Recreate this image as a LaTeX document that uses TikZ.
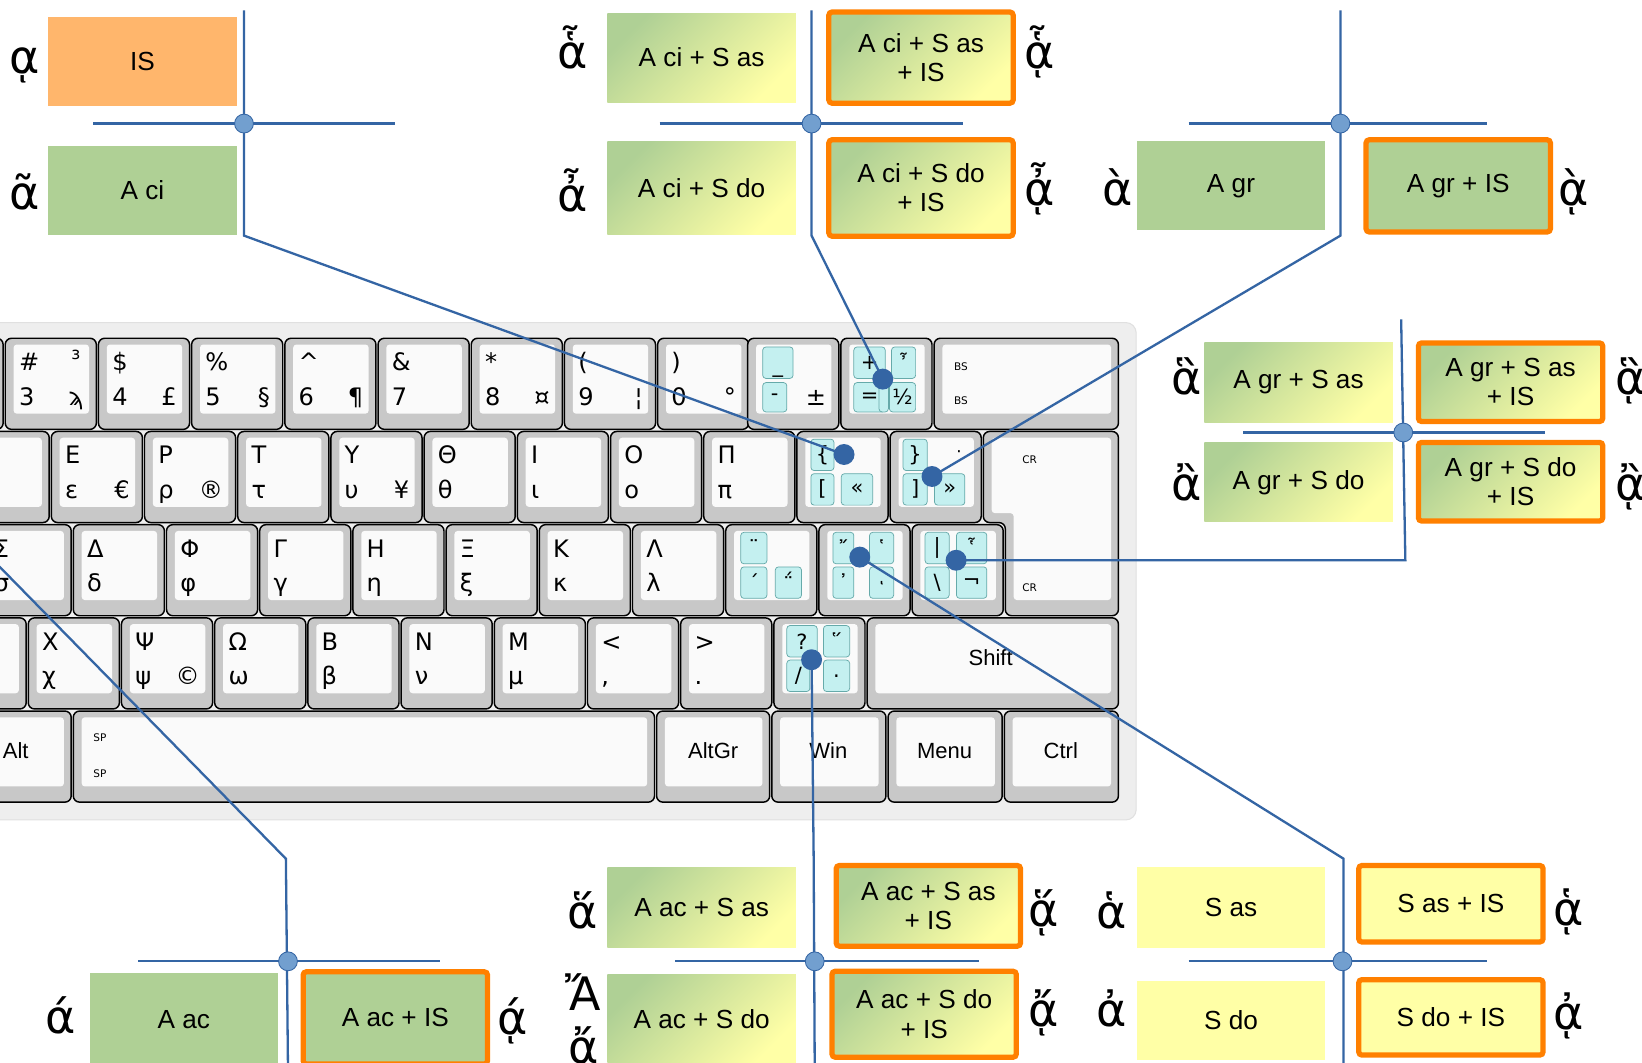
\documentclass[tikz,border=0pt]{standalone}
\usepackage{fontspec}
\setmainfont{Liberation Sans}
\newfontfamily\grkfamily{DejaVu Sans}
\usetikzlibrary{positioning}

\definecolor{linkblue}{HTML}{3465A4}
\definecolor{hubblue}{HTML}{729FCF}
\definecolor{boxgreen}{HTML}{AFD095}
\definecolor{boxyellow}{HTML}{FFFFA6}
\definecolor{boxorange}{HTML}{FF8000}
\definecolor{isorange}{HTML}{FFB66C}
\definecolor{capgray}{HTML}{C8C8C8}
\definecolor{panelgray}{HTML}{EEEEEE}
\definecolor{deadfill}{HTML}{C4F0F0}
\definecolor{deadline}{HTML}{66AAAA}

\newcommand{\boxfont}{\fontsize{25}{28}\selectfont}
\newcommand{\letterfont}{\grkfamily\fontsize{44}{50}\selectfont}
\newcommand{\keyfont}{\grkfamily\fontsize{23}{26}\selectfont}
\newcommand{\smallkeyfont}{\grkfamily\fontsize{16}{18}\selectfont}
\newcommand{\cellfont}{\grkfamily\fontsize{20}{22}\selectfont}
\newcommand{\tagfont}{\grkfamily\fontsize{10}{12}\selectfont}
\newcommand{\namefont}{\fontsize{21}{24}\selectfont}

\tikzset{
  kbpanel/.style={fill=panelgray, draw=black!12, line width=1pt, rounded corners=10pt},
  keycap/.style={draw=black, line width=1.4pt, fill=capgray, rounded corners=6pt},
  keyface/.style={fill=white!98!black, rounded corners=3pt},
  keylegend/.style={font=\keyfont, anchor=base west, inner sep=0pt},
  keytag/.style={font=\tagfont, anchor=base west, inner sep=0pt},
  keyname/.style={font=\namefont, inner sep=0pt},
  deadcell/.style={draw=deadline, fill=deadfill, line width=0.7pt, rounded corners=3pt,
                   anchor=north west, minimum width=26pt, minimum height=30pt, inner sep=0pt, font=\cellfont},
  wire/.style={draw=linkblue, line width=2.2pt},
  hubdot/.style={circle, fill=hubblue, draw=linkblue, line width=0.8pt, minimum size=18pt, inner sep=0pt},
  keydot/.style={circle, fill=linkblue, minimum size=20pt, inner sep=0pt},
  combo/.style={minimum width=180pt, minimum height=85pt, inner sep=0pt, font=\boxfont, align=center},
  greenbox/.style={combo, fill=boxgreen},
  yellowbox/.style={combo, fill=boxyellow},
  isbox/.style={combo, fill=isorange},
  gradbox/.style={combo, top color=boxgreen, bottom color=boxyellow, shading angle=45},
  iotabox/.style={draw=boxorange, line width=5pt, rounded corners=3pt, minimum width=176pt},
  accglyph/.style={font=\letterfont, inner sep=0pt, anchor=base},
}

% one key: x, y, width
\newcommand{\kcap}[3]{%
  \draw[keycap] (#1,#2) rectangle ++(#3,87);
  \fill[keyface] ({#1+8},{#2+6}) rectangle ({#1+#3-7},{#2+72});
}
% legends of one key: name, x, y, upper, lower, right
\newcommand{\kleg}[6]{%
  \node[keylegend] (#1-tl) at ({#2+13},{#3+31}) {#4};
  \node[keylegend] (#1-bl) at ({#2+13},{#3+64}) {#5};
  \node[keylegend, anchor=base east] (#1-br) at ({#2+75},{#3+64}) {#6};
}

\begin{document}
\begin{tikzpicture}[x=1pt, y=-1pt]
\useasboundingbox (0,0) rectangle (1568,1015);
\fill[white] (0,0) rectangle (1568,1015);

% keyboard
\path[kbpanel] (-40,308) rectangle (1085,783);

% number row
\kcap{-84}{323}{87}
\foreach \tl/\bl/\br/\tr [count=\i from 0] in {{\#}/3/{ϡ}/{з}, {\$}/4/{£}/{}, {\%}/5/{§}/{},
    {\textasciicircum}/6/{¶}/{}, {\&}/7/{}/{}, {*}/8/{¤}/{}, {(}/9/{¦}/{}, {)}/0/{°}/{}}{
  \pgfmathtruncatemacro\kx{5+89*\i}
  \kcap{\kx}{323}{87}
  \kleg{num\i}{\kx}{323}{\tl}{\bl}{\br}
  \node[keytag, font=\smallkeyfont] (num\i-tr) at ({\kx+63},343) {\tr};
}
\kcap{714}{323}{87}
\node[deadcell, minimum width=29pt, text height=20pt, text depth=2pt] (minus-tl) at (728,331) {\_};
\node[deadcell, minimum width=23pt, minimum height=28pt] (minus-bl) at (728,365) {-};
\node[keylegend, anchor=base east] (minus-br) at (789,387) {±};
\kcap{803}{323}{87}
\node[deadcell, minimum width=30pt] (plus-tl) at (815,331) {+};
\node[deadcell, minimum width=23pt] (plus-tr) at (851,331) {῏};
\node[deadcell, minimum width=30pt, minimum height=28pt] (plus-bl) at (815,365) {=};
\node[deadcell, minimum width=25pt, minimum height=28pt] (plus-br) at (849,365) {½};
\node[deadcell, minimum width=9pt, minimum height=33pt] (plus-bar) at (839,360) {};
\kcap{892}{323}{176}
\node[keytag] (bs-up) at (911,354) {BS};
\node[keytag] (bs-lo) at (911,386) {BS};

% upper letter row
\kcap{-40}{412}{87}
\foreach \tl/\bl/\br [count=\i from 0] in {Ε/ε/€, Ρ/ρ/®, Τ/τ/{}, Υ/υ/¥, Θ/θ/{}, Ι/ι/{}, Ο/ο/{}, Π/π/{}}{
  \pgfmathtruncatemacro\kx{49+89*\i}
  \kcap{\kx}{412}{87}
  \kleg{top\i}{\kx}{412}{\tl}{\bl}{\br}
}
\kcap{761}{412}{87}
\node[deadcell, minimum width=22pt] (open-tl) at (774,419) {\{};
\node[deadcell, minimum width=22pt] (open-bl) at (774,452) {[};
\node[deadcell, minimum width=30pt] (open-br) at (803,452) {«};
\kcap{850}{412}{87}
\node[deadcell, minimum width=23pt] (close-tl) at (862,419) {\}};
\node[deadcell, minimum width=23pt] (close-bl) at (862,452) {]};
\node[deadcell, minimum width=29pt] (close-br) at (892,452) {»};
\node[keytag, font=\smallkeyfont] (close-tr) at (913,437) {·};
\draw[keycap] (939,412) -- (1068,412) -- (1068,588) -- (960,588) -- (960,499) -- (939,499) -- cycle;
\fill[keyface] (947,418) -- (1061,418) -- (1061,573) -- (968,573) -- (968,490) -- (947,490) -- cycle;
\node[keytag] (cr-up) at (976,443) {CR};
\node[keytag] (cr-lo) at (976,565) {CR};

% home row
\kcap{-19}{501}{87}
\kleg{sigma}{-19}{501}{Σ}{σ}{}
\foreach \tl/\bl [count=\i from 0] in {Δ/δ, Φ/φ, Γ/γ, Η/η, Ξ/ξ, Κ/κ, Λ/λ}{
  \pgfmathtruncatemacro\kx{70+89*\i}
  \kcap{\kx}{501}{87}
  \kleg{home\i}{\kx}{501}{\tl}{\bl}{}
}
\kcap{693}{501}{87}
\node[deadcell, minimum width=25pt] (diaer-tl) at (707,508) {¨};
\node[deadcell, minimum width=25pt] (diaer-bl) at (707,541) {΄};
\node[deadcell, minimum width=25pt] (diaer-br) at (740,541) {΅};
\kcap{782}{501}{87}
\node[deadcell, minimum width=20pt] (quote-tl) at (795,508) {῎};
\node[deadcell, minimum width=23pt] (quote-tr) at (830,508) {῾};
\node[deadcell, minimum width=20pt] (quote-bl) at (795,541) {᾿};
\node[deadcell, minimum width=23pt] (quote-br) at (830,541) {ͺ};
\kcap{871}{501}{87}
\node[deadcell, minimum width=23pt] (bar-tl) at (883,508) {|};
\node[deadcell, minimum width=29pt] (bar-tr) at (913,508) {῟};
\node[deadcell, minimum width=23pt] (bar-bl) at (883,541) {\textbackslash};
\node[deadcell, minimum width=29pt] (bar-br) at (913,541) {¬};

% lower letter row
\kcap{-62}{590}{87}
\foreach \tl/\bl/\br [count=\i from 0] in {Χ/χ/{}, Ψ/ψ/{©}, Ω/ω/{}, Β/β/{}, Ν/ν/{}, Μ/μ/{}, {<}/{,}/{}, {>}/{.}/{}}{
  \pgfmathtruncatemacro\kx{27+89*\i}
  \kcap{\kx}{590}{87}
  \kleg{low\i}{\kx}{590}{\tl}{\bl}{\br}
}
\kcap{739}{590}{87}
\node[deadcell, minimum width=29pt] (query-tl) at (751,597) {?};
\node[deadcell, minimum width=25pt] (query-tr) at (786,597) {῞};
\node[deadcell, minimum width=22pt] (query-bl) at (751,630) {/};
\node[deadcell, minimum width=25pt] (query-br) at (786,630) {.};
\kcap{828}{590}{240}
\node[keyname] (shift) at (946,628) {Shift};

% bottom row
\kcap{-19}{679}{87}
\node[keyname] (alt) at (15,717) {Alt};
\kcap{70}{679}{555}
\node[keytag] (sp-up) at (89,708) {SP};
\node[keytag] (sp-lo) at (89,742) {SP};
\kcap{627}{679}{108}
\node[keyname] (altgr) at (681,717) {AltGr};
\kcap{737}{679}{109}
\node[keyname] (win) at (791,717) {Win};
\kcap{848}{679}{109}
\node[keyname] (menu) at (902,717) {Menu};
\kcap{959}{679}{109}
\node[keyname] (ctrl) at (1013,717) {Ctrl};

% dots on the keys
\node[keydot] (pinbrace) at (806,434) {};
\node[keydot] (pinplus) at (843,362) {};
\node[keydot] (pinclose) at (890,455) {};
\node[keydot] (pinquote) at (821,532) {};
\node[keydot] (pinbar) at (913,535) {};
\node[keydot] (pinquery) at (775,630) {};
\coordinate (pinsigma) at (-30,511);

% connectors
\coordinate (tltop) at (233,10);     \coordinate (tlbend) at (233,225);
\coordinate (tlwest) at (89,118);    \coordinate (tleast) at (377,118);
\coordinate (tmtop) at (775,10);     \coordinate (tmbend) at (775,225);
\coordinate (tmwest) at (630,118);   \coordinate (tmeast) at (920,118);
\coordinate (trtop) at (1280,10);    \coordinate (trbend) at (1280,225);
\coordinate (trwest) at (1135,118);  \coordinate (treast) at (1420,118);
\coordinate (rtop) at (1338,305);    \coordinate (rbend) at (1342,535);
\coordinate (rwest) at (1187,413);   \coordinate (reast) at (1475,413);
\coordinate (blbend) at (273,820);   \coordinate (blbottom) at (275,1020);
\coordinate (blwest) at (132,918);   \coordinate (bleast) at (420,918);
\coordinate (bmbend) at (777,820);   \coordinate (bmbottom) at (778,1020);
\coordinate (bmwest) at (645,918);   \coordinate (bmeast) at (935,918);
\coordinate (brbend) at (1283,820);  \coordinate (brbottom) at (1283,1020);
\coordinate (brwest) at (1135,918);  \coordinate (breast) at (1420,918);

\draw[wire] (tltop) -- (tlbend) -- (pinbrace.center);
\draw[wire] (tlwest) -- (tleast);
\draw[wire] (tmtop) -- (tmbend) -- (pinplus.center);
\draw[wire] (tmwest) -- (tmeast);
\draw[wire] (trtop) -- (trbend) -- (pinclose.center);
\draw[wire] (trwest) -- (treast);
\draw[wire] (rtop) -- (rbend) -- (pinbar.center);
\draw[wire] (rwest) -- (reast);
\draw[wire] (pinsigma) -- (blbend) -- (blbottom);
\draw[wire] (blwest) -- (bleast);
\draw[wire] (pinquery.center) -- (bmbend) -- (bmbottom);
\draw[wire] (bmwest) -- (bmeast);
\draw[wire] (pinquote.center) -- (brbend) -- (brbottom);
\draw[wire] (brwest) -- (breast);

\node[hubdot] (tlhub) at (233,118) {};
\node[hubdot] (tmhub) at (775,118) {};
\node[hubdot] (trhub) at (1280,118) {};
\node[hubdot] (rhub) at (1340,413) {};
\node[hubdot] (blhub) at (275,918) {};
\node[hubdot] (bmhub) at (778,918) {};
\node[hubdot] (brhub) at (1282,918) {};

% top left
\node[isbox] (is) at (136,58.5) {IS};
\node[greenbox] (aci) at (136,181.5) {A ci};
\node[accglyph] (is-g) at (24,70) {ᾳ};
\node[accglyph] (aci-g) at (24,200) {ᾶ};

% top middle
\node[gradbox] (acisas) at (670,55) {A ci + S as};
\node[gradbox, iotabox, minimum height=87pt] (acisasis) at (879.5,55) {A ci + S as\\+ IS};
\node[gradbox, minimum height=89pt] (acisdo) at (670,179.5) {A ci + S do};
\node[gradbox, iotabox, minimum height=92pt] (acisdois) at (879.5,179.5) {A ci + S do\\+ IS};
\node[accglyph] (acisas-g) at (547,65) {ἇ};
\node[accglyph] (acisasis-g) at (993,65) {ᾇ};
\node[accglyph] (acisdo-g) at (547,202) {ἆ};
\node[accglyph] (acisdois-g) at (993,196) {ᾆ};

% top right
\node[greenbox, minimum width=179pt] (agr) at (1175.5,177.5) {A gr};
\node[greenbox, iotabox, minimum height=88pt] (agris) at (1392.5,177.5) {A gr + IS};
\node[accglyph] (agr-g) at (1067,196) {ὰ};
\node[accglyph] (agris-g) at (1503,196) {ᾲ};

% right
\node[gradbox, minimum height=76pt] (agrsas) at (1240,365) {A gr + S as};
\node[gradbox, iotabox, minimum height=75pt] (agrsasis) at (1442.5,365) {A gr + S as\\+ IS};
\node[gradbox, minimum height=75pt] (agrsdo) at (1240,460.5) {A gr + S do};
\node[gradbox, iotabox, minimum height=75pt] (agrsdois) at (1442.5,460) {A gr + S do\\+ IS};
\node[accglyph] (agrsas-g) at (1133,377) {ἃ};
\node[accglyph] (agrsasis-g) at (1557,377) {ᾃ};
\node[accglyph] (agrsdo-g) at (1133,478) {ἂ};
\node[accglyph] (agrsdois-g) at (1557,478) {ᾂ};

% bottom left
\node[greenbox, minimum width=179pt, minimum height=90pt] (aac) at (175.5,974) {A ac};
\node[greenbox, iotabox, minimum height=88pt] (aacis) at (377.5,972) {A ac + IS};
\node[accglyph] (aac-g) at (58,987) {ά};
\node[accglyph] (aacis-g) at (490,988) {ᾴ};

% bottom middle
\node[gradbox, minimum height=77pt] (aacsas) at (670,866.5) {A ac + S as};
\node[gradbox, iotabox, minimum height=77pt] (aacsasis) at (886.5,865) {A ac + S as\\+ IS};
\node[gradbox, minimum height=84pt] (aacsdo) at (670,973) {A ac + S do};
\node[gradbox, iotabox, minimum height=82pt] (aacsdois) at (882.5,968.5) {A ac + S do\\+ IS};
\node[accglyph] (aacsas-g) at (556,887) {ἅ};
\node[accglyph] (aacsasis-g) at (997,885) {ᾅ};
\node[accglyph] (aacsdo-g) at (557,965) {Ἄ};
\node[accglyph] (aacsdo-h) at (557,1016) {ἄ};
\node[accglyph] (aacsdois-g) at (997,980) {ᾄ};

% bottom right
\node[yellowbox, minimum width=179pt, minimum height=77pt] (sas) at (1175.5,866.5) {S as};
\node[yellowbox, iotabox, minimum height=73pt] (sasis) at (1385.5,863) {S as + IS};
\node[yellowbox, minimum width=179pt, minimum height=75pt] (sdo) at (1175.5,974.5) {S do};
\node[yellowbox, iotabox, minimum height=72pt] (sdois) at (1385.5,971.5) {S do + IS};
\node[accglyph] (sas-g) at (1062,887) {ἁ};
\node[accglyph] (sasis-g) at (1498,884) {ᾁ};
\node[accglyph] (sdo-g) at (1062,980) {ἀ};
\node[accglyph] (sdois-g) at (1498,983) {ᾀ};
\end{tikzpicture}
\end{document}
